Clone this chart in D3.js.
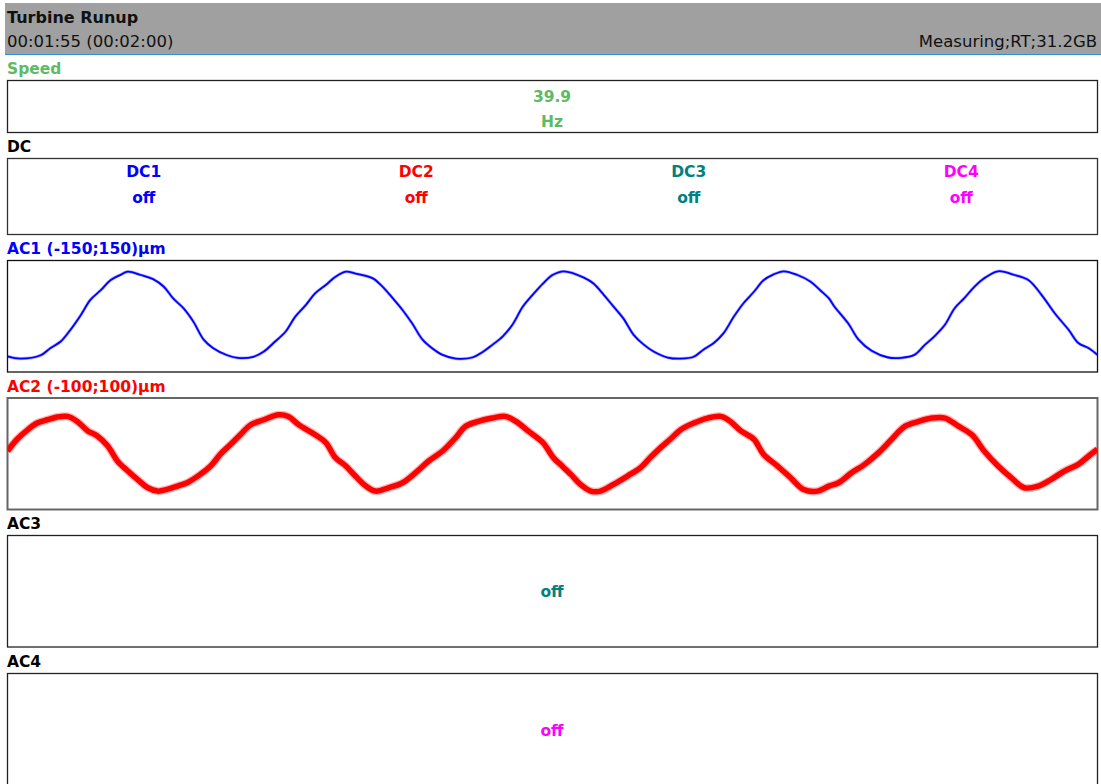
<!DOCTYPE html>
<html>
<head>
<meta charset="utf-8">
<script src="https://cdn.jsdelivr.net/npm/d3@7"></script>
<style>
html,body{margin:0;padding:0;background:#fff;}
svg{display:block;font-family:"DejaVu Sans",sans-serif;}
</style>
</head>
<body>
<svg id="chart" width="1101" height="784"></svg>
<script>
// ---------- data ----------
const title = "Turbine Runup";
const timeText = "00:01:55 (00:02:00)";
const statusText = "Measuring;RT;31.2GB";

const speedLabel = "Speed";
const speedValue = "39.9";
const speedUnit = "Hz";

const dcLabel = "DC";
const dcChannels = ["DC1", "DC2", "DC3", "DC4"];
const dcStates = ["off", "off", "off", "off"];

const ac1Label = "AC1 (-150;150)µm";
const ac1Range = [-150, 150];
const ac2Label = "AC2 (-100;100)µm";
const ac2Range = [-100, 100];
const ac3Label = "AC3";
const ac3State = "off";
const ac4Label = "AC4";
const ac4State = "off";

const timeWindow = [0, 125]; // ms

const ac1Time = [0.0,1.5,3.8,4.9,6.1,7.2,8.4,9.5,10.7,11.8,13.0,13.8,15.3,16.7,17.9,19.0,20.2,21.3,22.5,23.6,25.2,26.4,28.2,29.4,30.5,31.9,33.0,34.2,35.3,36.5,37.6,38.8,39.9,41.9,43.0,44.2,45.3,46.4,47.6,48.7,49.9,51.4,53.3,54.5,55.6,56.8,57.9,59.1,60.2,61.4,62.5,63.8,66.1,67.2,68.4,69.5,70.6,71.8,72.9,74.1,75.7,77.2,78.7,79.8,81.0,82.1,83.3,84.4,85.6,86.7,87.8,89.0,90.6,92.1,93.2,94.2,94.8,96.4,97.6,99.1,101.0,102.5,104.0,105.2,106.3,107.5,108.6,109.7,110.9,112.0,113.6,115.5,117.1,118.6,120.1,121.7,122.8,124.0,125.0];
const ac1Values = [-108,-114,-105,-86,-68,-37,3,44,70,97,112,120,111,100,80,48,21,-14,-63,-86,-105,-112,-109,-95,-72,-41,-1,30,62,84,106,120,115,102,80,48,17,-19,-63,-86,-104,-114,-111,-96,-77,-54,-23,26,57,88,111,121,104,88,57,26,-5,-50,-75,-95,-111,-114,-109,-90,-72,-46,-1,35,66,97,112,121,111,93,70,48,27,-19,-63,-93,-111,-112,-104,-77,-54,-23,21,48,80,102,121,111,97,57,8,-37,-72,-86,-104];

const ac2Time = [0.0,1.1,2.3,3.4,4.6,5.7,6.9,8.0,9.2,10.3,11.5,12.6,13.8,14.9,16.1,17.2,18.3,19.5,20.6,22.1,23.3,24.4,25.6,26.7,27.9,29.4,31.1,32.2,33.4,35.3,36.5,37.6,38.8,39.9,41.1,42.2,43.7,45.3,46.8,48.3,49.9,51.4,52.5,54.0,55.6,57.1,58.3,59.7,61.4,62.6,63.4,64.6,65.7,66.9,68.0,69.5,71.1,72.6,73.7,74.9,76.0,77.2,78.7,80.3,81.8,82.9,84.1,85.6,86.7,88.3,89.8,91.3,92.9,94.2,95.3,96.8,98.3,99.9,101.4,102.9,104.5,106.0,107.5,109.1,110.6,112.0,113.6,115.1,116.6,118.2,119.7,121.2,122.8,124.0,125.0];
const ac2Values = [5,26,43,55,61,66,67,58,41,32,14,-13,-31,-46,-61,-67,-64,-58,-52,-37,-22,-1,17,34,52,61,70,67,52,34,20,-7,-22,-40,-58,-67,-61,-52,-34,-13,5,29,49,58,64,67,58,41,20,-7,-19,-37,-55,-67,-67,-55,-40,-25,-7,11,26,43,55,64,67,58,41,26,-1,-22,-43,-64,-67,-58,-52,-34,-19,2,26,49,58,64,64,49,34,5,-22,-43,-61,-58,-46,-31,-19,-4,8];

// ---------- styles ----------
const colors = {
  speed: "#5dbb63",
  dc: ["#0000ff", "#ff0000", "#008080", "#ff00ff"],
  ac1: "#0000ff",
  ac2: "#ff0000",
  ac3: "#008080",
  ac4: "#ff00ff",
  label: "#000000"
};
const BOLD = 15.5, REG = 16.5, TITLE = 16;

const svg = d3.select("#chart");
const W = 1101;
const boxX = 7.5, boxW = 1090;

// header
svg.append("rect").attr("x", 5).attr("y", 3).attr("width", W - 5).attr("height", 51).attr("fill", "#a0a0a0");
svg.append("line").attr("x1", 5).attr("x2", W).attr("y1", 54.5).attr("y2", 54.5).attr("stroke", "#2f8fdc").attr("stroke-width", 1);
svg.append("text").attr("x", 7).attr("y", 22.5).attr("font-size", TITLE).attr("font-weight", "bold").attr("fill", "#111").text(title);
svg.append("text").attr("x", 7).attr("y", 47).attr("font-size", REG).attr("fill", "#111").text(timeText);
svg.append("text").attr("x", 1097).attr("y", 47).attr("font-size", REG).attr("fill", "#111").attr("text-anchor", "end").text(statusText);

function panel(label, labelColor, top, height, stroke, sw) {
  svg.append("text").attr("x", 7).attr("y", top - 6.5).attr("font-size", BOLD).attr("font-weight", "bold")
    .attr("fill", labelColor).text(label);
  svg.append("rect").attr("x", boxX).attr("y", top).attr("width", boxW).attr("height", height)
    .attr("fill", "#fff").attr("stroke", stroke || "#222").attr("stroke-width", sw || 1.3);
}

// Speed
panel(speedLabel, colors.speed, 80.5, 52);
svg.append("text").attr("x", 552).attr("y", 101.5).attr("text-anchor", "middle").attr("font-size", BOLD)
  .attr("font-weight", "bold").attr("fill", colors.speed).text(speedValue);
svg.append("text").attr("x", 552).attr("y", 126.5).attr("text-anchor", "middle").attr("font-size", BOLD)
  .attr("font-weight", "bold").attr("fill", colors.speed).text(speedUnit);

// DC
panel(dcLabel, colors.label, 158.5, 76, "#333");
const dcX = d3.scaleBand().domain(dcChannels).range([boxX, boxX + boxW]);
const dcG = svg.append("g").selectAll("g").data(dcChannels).join("g")
  .attr("transform", d => `translate(${dcX(d) + dcX.bandwidth() / 2},0)`);
dcG.append("text").attr("y", 177).attr("text-anchor", "middle").attr("font-size", BOLD).attr("font-weight", "bold")
  .attr("fill", (d, i) => colors.dc[i]).text(d => d);
dcG.append("text").attr("y", 203).attr("text-anchor", "middle").attr("font-size", BOLD).attr("font-weight", "bold")
  .attr("fill", (d, i) => colors.dc[i]).text((d, i) => dcStates[i]);

// waveform panels
function wavePanel(id, label, color, top, range, times, values, strokeW, haloW, borderColor, borderW) {
  const h = 111.5;
  panel(label, color, top, h, borderColor, borderW);
  const x = d3.scaleLinear().domain(timeWindow).range([boxX, boxX + boxW]);
  const y = d3.scaleLinear().domain(range).range([top + h, top]);
  svg.append("clipPath").attr("id", id).append("rect")
    .attr("x", boxX).attr("y", top).attr("width", boxW).attr("height", h);
  const data = times.map((t, i) => [t, values[i]]);
  const line = d3.line().x(d => x(d[0])).y(d => y(d[1])).curve(d3.curveCatmullRom.alpha(0.5));
  const g = svg.append("g").attr("clip-path", `url(#${id})`);
  g.append("path").attr("d", line(data)).attr("fill", "none").attr("stroke", color)
    .attr("stroke-opacity", 0.3).attr("stroke-width", haloW).attr("stroke-linejoin", "round");
  g.append("path").attr("d", line(data)).attr("fill", "none").attr("stroke", color)
    .attr("stroke-width", strokeW).attr("stroke-linejoin", "round");
}

wavePanel("clipAC1", ac1Label, colors.ac1, 260.5, ac1Range, ac1Time, ac1Values, 1.8, 3.2, "#111", 1.3);
wavePanel("clipAC2", ac2Label, colors.ac2, 398, ac2Range, ac2Time, ac2Values, 5.5, 8, "#666", 2);

// AC3
panel(ac3Label, colors.label, 535.5, 111.5, "#222");
svg.append("text").attr("x", 552).attr("y", 597).attr("text-anchor", "middle").attr("font-size", BOLD)
  .attr("font-weight", "bold").attr("fill", colors.ac3).text(ac3State);

// AC4
panel(ac4Label, colors.label, 673.5, 115, "#222");
svg.append("text").attr("x", 552).attr("y", 736).attr("text-anchor", "middle").attr("font-size", BOLD)
  .attr("font-weight", "bold").attr("fill", colors.ac4).text(ac4State);
</script>
</body>
</html>
